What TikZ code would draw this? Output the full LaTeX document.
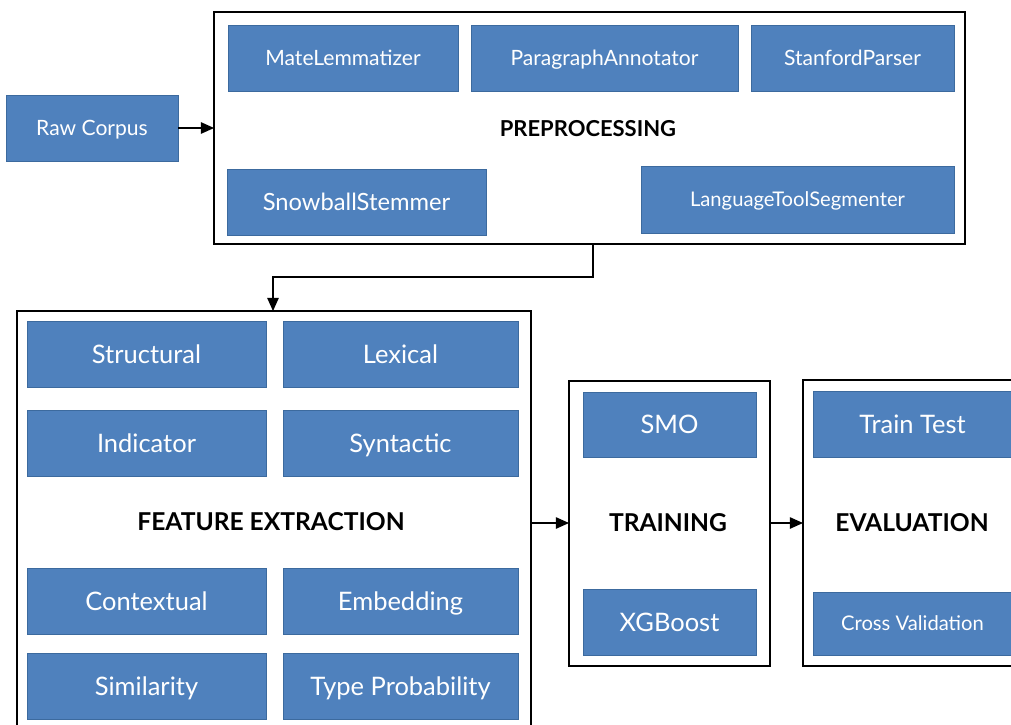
\documentclass[tikz,border=0pt]{standalone}
\usepackage{fontspec}
\setmainfont{Lato}
\usepackage{xcolor}
\usepackage{tikz}
\usetikzlibrary{arrows.meta, positioning}

\definecolor{caixa}{HTML}{4F81BD}
\definecolor{borda}{HTML}{3C6A9E}

\begin{document}
\begin{tikzpicture}[
		    x=0.02cm, y=-0.02cm,
		    every node/.style={inner sep=0pt, outer sep=0pt},
		    seta/.style={draw=black, line width=0.8pt, -{Triangle[length=7.5pt, width=6.5pt]}}
		]
		\tikzset{
		    bloco/.style={draw=borda, fill=caixa, text=white, line width=0.5pt, minimum height=1.32cm, text depth=0.3pt},
		    pequeno/.style={font=\fontsize{12}{14}\selectfont, text height=8.9pt},
		    menor/.style={font=\fontsize{11.5}{14}\selectfont, text height=8.6pt},
		    medio/.style={font=\fontsize{13.5}{16}\selectfont, text height=10pt},
		    grande/.style={font=\fontsize{14.5}{17}\selectfont, text height=10.7pt},
		    etapa/.style={draw=black, line width=1.1pt, fill=none},
		    titulo/.style={font=\fontsize{14}{17}\selectfont\bfseries}
		}
		\useasboundingbox (0,0) rectangle (1011,724);
		% caixas das etapas
		\node[etapa, minimum width=15.02cm, minimum height=4.64cm] (prep) at (589.5,128) {};
		\node[etapa, minimum width=10.28cm, minimum height=8.58cm] (feat) at (274,525.5) {};
		\node[etapa, minimum width=4.02cm, minimum height=5.7cm] (train) at (669.5,523.5) {};
		\node[etapa, minimum width=4.38cm, minimum height=5.72cm] (eval) at (912.5,523) {};
		% entrada
		\node[bloco, pequeno, minimum width=3.44cm] (raw) at (92,128) {Raw Corpus};
		% preprocessamento
		\node[bloco, pequeno, minimum width=4.6cm] (mate) at (343,58) {MateLemmatizer};
		\node[bloco, pequeno, minimum width=5.34cm] (para) at (604.5,58) {ParagraphAnnotator};
		\node[bloco, pequeno, minimum width=4.06cm] (stan) at (852.5,58) {StanfordParser};
		\node[bloco, medio, minimum width=5.18cm] (snow) at (356.5,202) {SnowballStemmer};
		\node[bloco, menor, minimum width=6.26cm, minimum height=1.34cm] (lang) at (797.5,199.5) {LanguageToolSegmenter};
		\node[titulo, font=\fontsize{12.5}{15}\selectfont\bfseries] (preplbl) at (588,129) {PREPROCESSING};
		% atributos
		\node[bloco, grande, minimum width=4.78cm] (struct) at (146.5,354) {Structural};
		\node[bloco, grande, minimum width=4.7cm] (lex) at (400.5,354) {Lexical};
		\node[bloco, grande, minimum width=4.78cm] (ind) at (146.5,443) {Indicator};
		\node[bloco, grande, minimum width=4.7cm] (synt) at (400.5,443) {Syntactic};
		\node[titulo] (featlbl) at (271,522) {FEATURE EXTRACTION};
		\node[bloco, grande, minimum width=4.78cm] (ctx) at (146.5,601.5) {Contextual};
		\node[bloco, grande, minimum width=4.7cm] (emb) at (400.5,601.5) {Embedding};
		\node[bloco, grande, minimum width=4.78cm] (sim) at (146.5,686) {Similarity};
		\node[bloco, grande, minimum width=4.7cm] (typ) at (400.5,686) {Type Probability};
		% treino
		\node[bloco, grande, minimum width=3.46cm, minimum height=1.3cm] (smo) at (669.5,424.5) {SMO};
		\node[titulo] (trainlbl) at (668,523) {TRAINING};
		\node[bloco, grande, minimum width=3.46cm] (xgb) at (669.5,622) {XGBoost};
		% avaliacao
		\node[bloco, grande, minimum width=3.98cm] (tt) at (912.5,424) {Train Test};
		\node[titulo] (evallbl) at (912,523) {EVALUATION};
		\node[bloco, menor, minimum width=3.98cm, minimum height=1.26cm] (cv) at (912.5,623.5) {Cross Validation};
		% ligacoes
		\coordinate (desce) at (593,277);
		\draw[seta] (raw.east) -- (prep.west |- raw.east);
		\draw[seta] (prep.south -| desce) -- (desce) -| (feat.north -| 273,0);
		\draw[seta] (feat.east |- trainlbl) -- (train.west |- trainlbl);
		\draw[seta] (train.east |- evallbl) -- (eval.west |- evallbl);
		\end{tikzpicture}
\end{document}
